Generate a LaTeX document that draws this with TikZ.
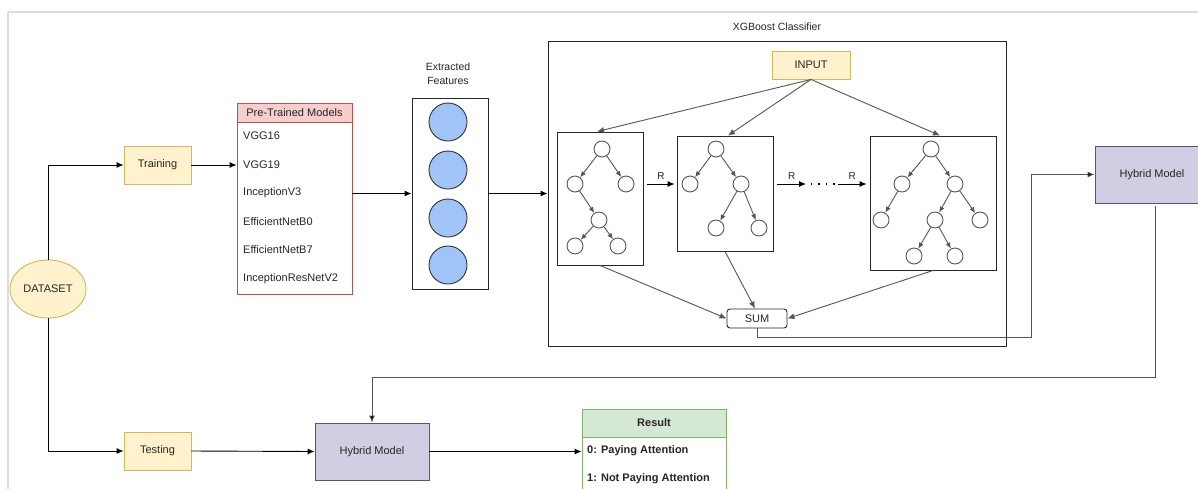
\documentclass[tikz,border=0pt]{standalone}
\usepackage{fontspec}
\setmainfont{Liberation Sans}
\usetikzlibrary{arrows.meta,shapes.geometric}
\definecolor{ylfill}{HTML}{FFF2CC}
\definecolor{ylline}{HTML}{D6B656}
\definecolor{rdfill}{HTML}{F8CECC}
\definecolor{rdline}{HTML}{B85450}
\definecolor{pufill}{HTML}{D0CEE2}
\definecolor{puline}{HTML}{56517E}
\definecolor{grfill}{HTML}{D5E8D4}
\definecolor{grline}{HTML}{82B366}
\definecolor{bluec}{HTML}{9FC5F8}
\definecolor{txt}{HTML}{262626}
\definecolor{inner}{HTML}{555555}
\definecolor{frame}{HTML}{DCDCDC}
\tikzset{
  box/.style={draw, rectangle, inner sep=0pt, text=txt, line width=0.9pt},
  yellowbox/.style={box, draw=ylline, fill=ylfill},
  purplebox/.style={box, draw=puline, fill=pufill},
  treebox/.style={box, draw=black!85},
  arr/.style={draw=black, line width=0.9pt, -{Latex[length=7pt,width=6pt]}},
  garr/.style={draw=inner, line width=0.9pt, -{Latex[length=7pt,width=6pt]}},
  tarr/.style={draw=inner, line width=0.9pt, -{Latex[length=6pt,width=5pt]}},
  tn/.style={circle, draw=inner, line width=0.9pt, fill=white, minimum size=16pt, inner sep=0pt},
  feat/.style={circle, draw=black!80, line width=0.9pt, fill=bluec, minimum size=38pt, inner sep=0pt},
  item/.style={anchor=west, inner sep=0pt, text=txt},
  ritem/.style={anchor=west, inner sep=0pt, text=txt, font=\fontsize{11}{13}\selectfont\bfseries},
}
\begin{document}
\begin{tikzpicture}[x=1pt,y=-1pt,font=\fontsize{11}{13}\selectfont]
\useasboundingbox (0,0) rectangle (1198,488);
\clip (0,0) rectangle (1198,488);
\fill[white] (0,0) rectangle (1198,488);
% outer frame
\draw[frame, line width=1.8pt] (8,500) -- (8,12) -- (1210,12);

% dataset, training, testing
\node[yellowbox, ellipse, minimum width=76pt, minimum height=58pt] (ds) at (48,289) {DATASET};
\node[yellowbox, minimum width=67pt, minimum height=38pt] (train) at (157.5,165) {Training};
\node[yellowbox, minimum width=67pt, minimum height=38pt] (test) at (157.5,451) {Testing};

% pre-trained models
\node[box, draw=rdline, fill=white, minimum width=115pt, minimum height=172pt] (ptm) at (294.5,208) {};
\node[box, draw=rdline, fill=rdfill, minimum width=115pt, minimum height=19pt] (ptmh) at (294.5,112.5) {Pre-Trained Models};
\node[item] (m1) at (243,136) {VGG16};
\node[item] (m2) at (243,165) {VGG19};
\node[item] (m3) at (243,193) {InceptionV3};
\node[item] (m4) at (243,222) {EfficientNetB0};
\node[item] (m5) at (243,250) {EfficientNetB7};
\node[item] (m6) at (243,279) {InceptionResNetV2};

% extracted features
\node[box, draw=black!85, minimum width=76pt, minimum height=191pt] (ext) at (450,193.5) {};
\node[text=txt, align=center, font=\fontsize{10.5}{14}\selectfont] (featlbl) at (448,74) {Extracted\\Features};
\node[feat] (f1) at (448,122) {};
\node[feat] (f2) at (448,170) {};
\node[feat] (f3) at (448,218) {};
\node[feat] (f4) at (448,265) {};

% XGBoost
\node[box, draw=black!85, minimum width=458pt, minimum height=305pt] (xgb) at (777,193.5) {};
\node[text=txt, font=\fontsize{10.5}{13}\selectfont] (xgblbl) at (777,27) {XGBoost Classifier};
\node[yellowbox, minimum width=78pt, minimum height=28pt] (input) at (811,65) {INPUT};
\node[treebox, minimum width=86pt, minimum height=133pt] (t1) at (600,198.5) {};
\node[treebox, minimum width=96pt, minimum height=115pt] (t2) at (725,193.5) {};
\node[treebox, minimum width=126pt, minimum height=134pt] (t3) at (933,203) {};
\node[box, draw=black!85, rounded corners=3pt, minimum width=60pt, minimum height=19pt] (sum) at (757,318.5) {SUM};

% tree 1
\node[tn] (a0) at (602,149) {};
\node[tn] (a1) at (575,184) {};
\node[tn] (a2) at (626,184) {};
\node[tn] (a3) at (599,220) {};
\node[tn] (a4) at (575,246) {};
\node[tn] (a5) at (618,246) {};
\draw[tarr] (a0) -- (a1);
\draw[tarr] (a0) -- (a2);
\draw[tarr] (a1) -- (a3);
\draw[tarr] (a3) -- (a4);
\draw[tarr] (a3) -- (a5);
% tree 2
\node[tn] (b0) at (716,149) {};
\node[tn] (b1) at (690,184) {};
\node[tn] (b2) at (741,184) {};
\node[tn] (b3) at (716,228) {};
\node[tn] (b4) at (759,228) {};
\draw[tarr] (b0) -- (b1);
\draw[tarr] (b0) -- (b2);
\draw[tarr] (b2) -- (b3);
\draw[tarr] (b2) -- (b4);
% tree 3
\node[tn] (c0) at (931,149) {};
\node[tn] (c1) at (902,184) {};
\node[tn] (c2) at (955,184) {};
\node[tn] (c3) at (881,220) {};
\node[tn] (c4) at (935,220) {};
\node[tn] (c5) at (980,220) {};
\node[tn] (c6) at (914,256) {};
\node[tn] (c7) at (955,256) {};
\draw[tarr] (c0) -- (c1);
\draw[tarr] (c0) -- (c2);
\draw[tarr] (c1) -- (c3);
\draw[tarr] (c2) -- (c4);
\draw[tarr] (c2) -- (c5);
\draw[tarr] (c4) -- (c6);
\draw[tarr] (c4) -- (c7);

% input to trees
\draw[garr] (input.south) -- ([xshift=-3pt]t1.north);
\draw[garr] (input.south) -- ([xshift=3pt]t2.north);
\draw[garr] (input.south) -- ([xshift=7pt]t3.north);

% R arrows
\coordinate (d1) at (806,184);
\coordinate (d2) at (835,184);
\draw[arr] ([xshift=4pt]t1.east |- a1) -- node[above=1pt, text=txt, font=\fontsize{10}{12}\selectfont] (r1) {R} ([xshift=-2pt]t2.west |- a1);
\draw[arr] ([xshift=4pt]t2.east |- a1) -- node[above=1pt, text=txt, font=\fontsize{10}{12}\selectfont] (r2) {R} (d1);
\draw[black, line width=1.4pt, dash pattern=on 1.4pt off 6pt] ([xshift=5pt]d1) -- (d2);
\draw[arr] ([xshift=3pt]d2) -- node[above=1pt, text=txt, font=\fontsize{10}{12}\selectfont] (r3) {R} ([xshift=-3pt]t3.west |- a1);

% trees to sum
\draw[garr] (t1.south) -- (sum.west);
\draw[garr] (t2.south) -- ([xshift=-2pt]sum.north);
\draw[garr] (t3.south) -- (sum.east);

% hybrid models
\node[purplebox, minimum width=114pt, minimum height=57pt] (hyb1) at (1152,174.5) {Hybrid Model};
\node[purplebox, minimum width=114pt, minimum height=57pt] (hyb2) at (372,451.5) {Hybrid Model};

\coordinate (j1) at (1031,337);
\coordinate (j2) at (1155,377);
\draw[garr, -{Latex[length=7pt,width=6pt,fill=black]}] (sum.south) |- (j1) |- (hyb1.west);
\draw[garr, -{Latex[length=7pt,width=6pt,fill=black]}] ([xshift=3pt,yshift=-3pt]hyb1.south) -- (j2) -| (hyb2.north);

% result
\node[box, draw=grline, fill=white, minimum width=144pt, minimum height=63pt] (resb) at (654,468.5) {};
\node[box, draw=grline, fill=grfill, minimum width=144pt, minimum height=28pt, font=\fontsize{11}{13}\selectfont\bfseries] (resh) at (654,423) {Result};
\node[ritem] (r0) at (587,451) {0: Paying Attention};
\node[ritem] (r1b) at (587,479) {1: Not Paying Attention};

% main flow
\draw[arr] (ds.north) |- (train.west);
\draw[arr] (ds.south) |- (test.west);
\draw[arr] (train.east) -- (train.east -| ptm.west);
\draw[arr] (ext.west -| ptm.east) -- (ext.west);
\draw[arr] (ext.east) -- (ext.east -| xgb.west);
\draw[arr] (test.east) -- (hyb2.west);
\draw[arr] (hyb2.east) -- (hyb2.east -| resb.west);
\end{tikzpicture}
\end{document}
